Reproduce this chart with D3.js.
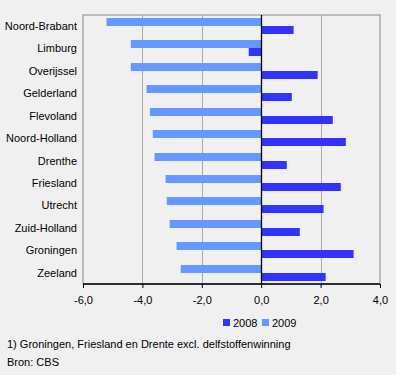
<!DOCTYPE html>
<html>
<head>
<meta charset="utf-8">
<script src="https://cdn.jsdelivr.net/npm/d3@7"></script>
<style>
  body { margin: 0; background: #f0f0f0; }
  svg { display: block; font-family: "Liberation Sans", Arial, sans-serif; font-size: 11px; }
</style>
</head>
<body>
<svg id="chart" width="396" height="375"></svg>
<script>
// provinces, top to bottom
var provinces = ['Noord-Brabant', 'Limburg', 'Overijssel', 'Gelderland', 'Flevoland', 'Noord-Holland',
                 'Drenthe', 'Friesland', 'Utrecht', 'Zuid-Holland', 'Groningen', 'Zeeland'];
var values2008 = [1.09, -0.42, 1.90, 1.03, 2.41, 2.85, 0.86, 2.68, 2.10, 1.30, 3.11, 2.17];
var values2009 = [-5.21, -4.39, -4.39, -3.86, -3.75, -3.65, -3.59, -3.22, -3.18, -3.08, -2.85, -2.71];
var xTicks = [-6, -4, -2, 0, 2, 4];
var seriesNames = ['2008', '2009'];
var colors = { '2008': '#3333ff', '2009': '#6699ff' };

var svg = d3.select('#chart');
var margin = { top: 15, left: 83, right: 16, bottom: 91 },
    width = 396 - margin.left - margin.right,
    height = 375 - margin.top - margin.bottom;

var g = svg.append('g').attr('transform', 'translate(' + margin.left + ',' + margin.top + ')');

var x = d3.scaleLinear().domain([-6, 4]).range([0, width]);
var y = d3.scaleBand().domain(provinces).range([0, height]);
var barH = 8;

// frame
g.append('rect')
    .attr('x', 0).attr('y', 0)
    .attr('width', width).attr('height', height)
    .attr('fill', 'none').attr('stroke', '#888');

// gridlines
g.selectAll('.grid')
    .data(xTicks.filter(function(d) { return d !== 0 && d !== -6 && d !== 4; }))
    .enter().append('line')
    .attr('x1', function(d) { return Math.round(x(d)) + 0.5; })
    .attr('x2', function(d) { return Math.round(x(d)) + 0.5; })
    .attr('y1', 0).attr('y2', height)
    .attr('stroke', '#aaa');

// bars 2009 (top) and 2008 (below)
var rows = provinces.map(function(p, i) { return { name: p, v2008: values2008[i], v2009: values2009[i] }; });

g.selectAll('.bar2009')
    .data(rows)
    .enter().append('rect')
    .attr('x', function(d) { return x(Math.min(0, d.v2009)); })
    .attr('y', function(d) { return Math.round(y(d.name) + 3); })
    .attr('width', function(d) { return Math.abs(x(d.v2009) - x(0)); })
    .attr('height', barH)
    .attr('fill', colors['2009']);

g.selectAll('.bar2008')
    .data(rows)
    .enter().append('rect')
    .attr('x', function(d) { return x(Math.min(0, d.v2008)); })
    .attr('y', function(d) { return Math.round(y(d.name) + 3) + barH; })
    .attr('width', function(d) { return Math.abs(x(d.v2008) - x(0)); })
    .attr('height', barH)
    .attr('fill', colors['2008']);

// zero line
g.append('line')
    .attr('x1', Math.round(x(0)) + 0.5).attr('x2', Math.round(x(0)) + 0.5)
    .attr('y1', 0).attr('y2', height)
    .attr('stroke', '#000').attr('stroke-width', 1.3);

// x axis
var xAxis = g.append('g')
    .attr('transform', 'translate(0,' + height + ')')
    .call(d3.axisBottom(x).tickValues(xTicks).tickSize(4).tickPadding(8)
        .tickFormat(function(d) { return d3.format('.1f')(d).replace('.', ',').replace('−', '-'); }));
xAxis.select('.domain').attr('stroke', '#000').attr('stroke-width', 1.3).attr('d', 'M0,0H' + width);
xAxis.selectAll('.tick line').attr('stroke', '#000');
xAxis.selectAll('text').attr('fill', '#000').style('font-size', '11px').style('font-family', '"Liberation Sans", Arial, sans-serif');

// category labels
g.selectAll('.cat')
    .data(provinces)
    .enter().append('text')
    .attr('x', -6)
    .attr('y', function(d) { return y(d) + y.bandwidth() / 2; })
    .attr('dy', '0.35em')
    .attr('text-anchor', 'end')
    .attr('fill', '#000')
    .text(function(d) { return d; });

// legend
var legend = svg.append('g').attr('transform', 'translate(223,319)');
var legendX = [0, 39];
seriesNames.forEach(function(s, i) {
    legend.append('rect')
        .attr('x', legendX[i]).attr('y', 0)
        .attr('width', 7).attr('height', 7)
        .attr('fill', colors[s]);
    legend.append('text')
        .attr('x', legendX[i] + 10).attr('y', 4)
        .attr('dy', '0.35em')
        .text(s);
});

// footnotes
svg.append('text').attr('x', 7).attr('y', 344).attr('dy', '0.35em')
    .text('1) Groningen, Friesland en Drente excl. delfstoffenwinning');
svg.append('text').attr('x', 7).attr('y', 362).attr('dy', '0.35em')
    .text('Bron: CBS');
</script>
</body>
</html>
